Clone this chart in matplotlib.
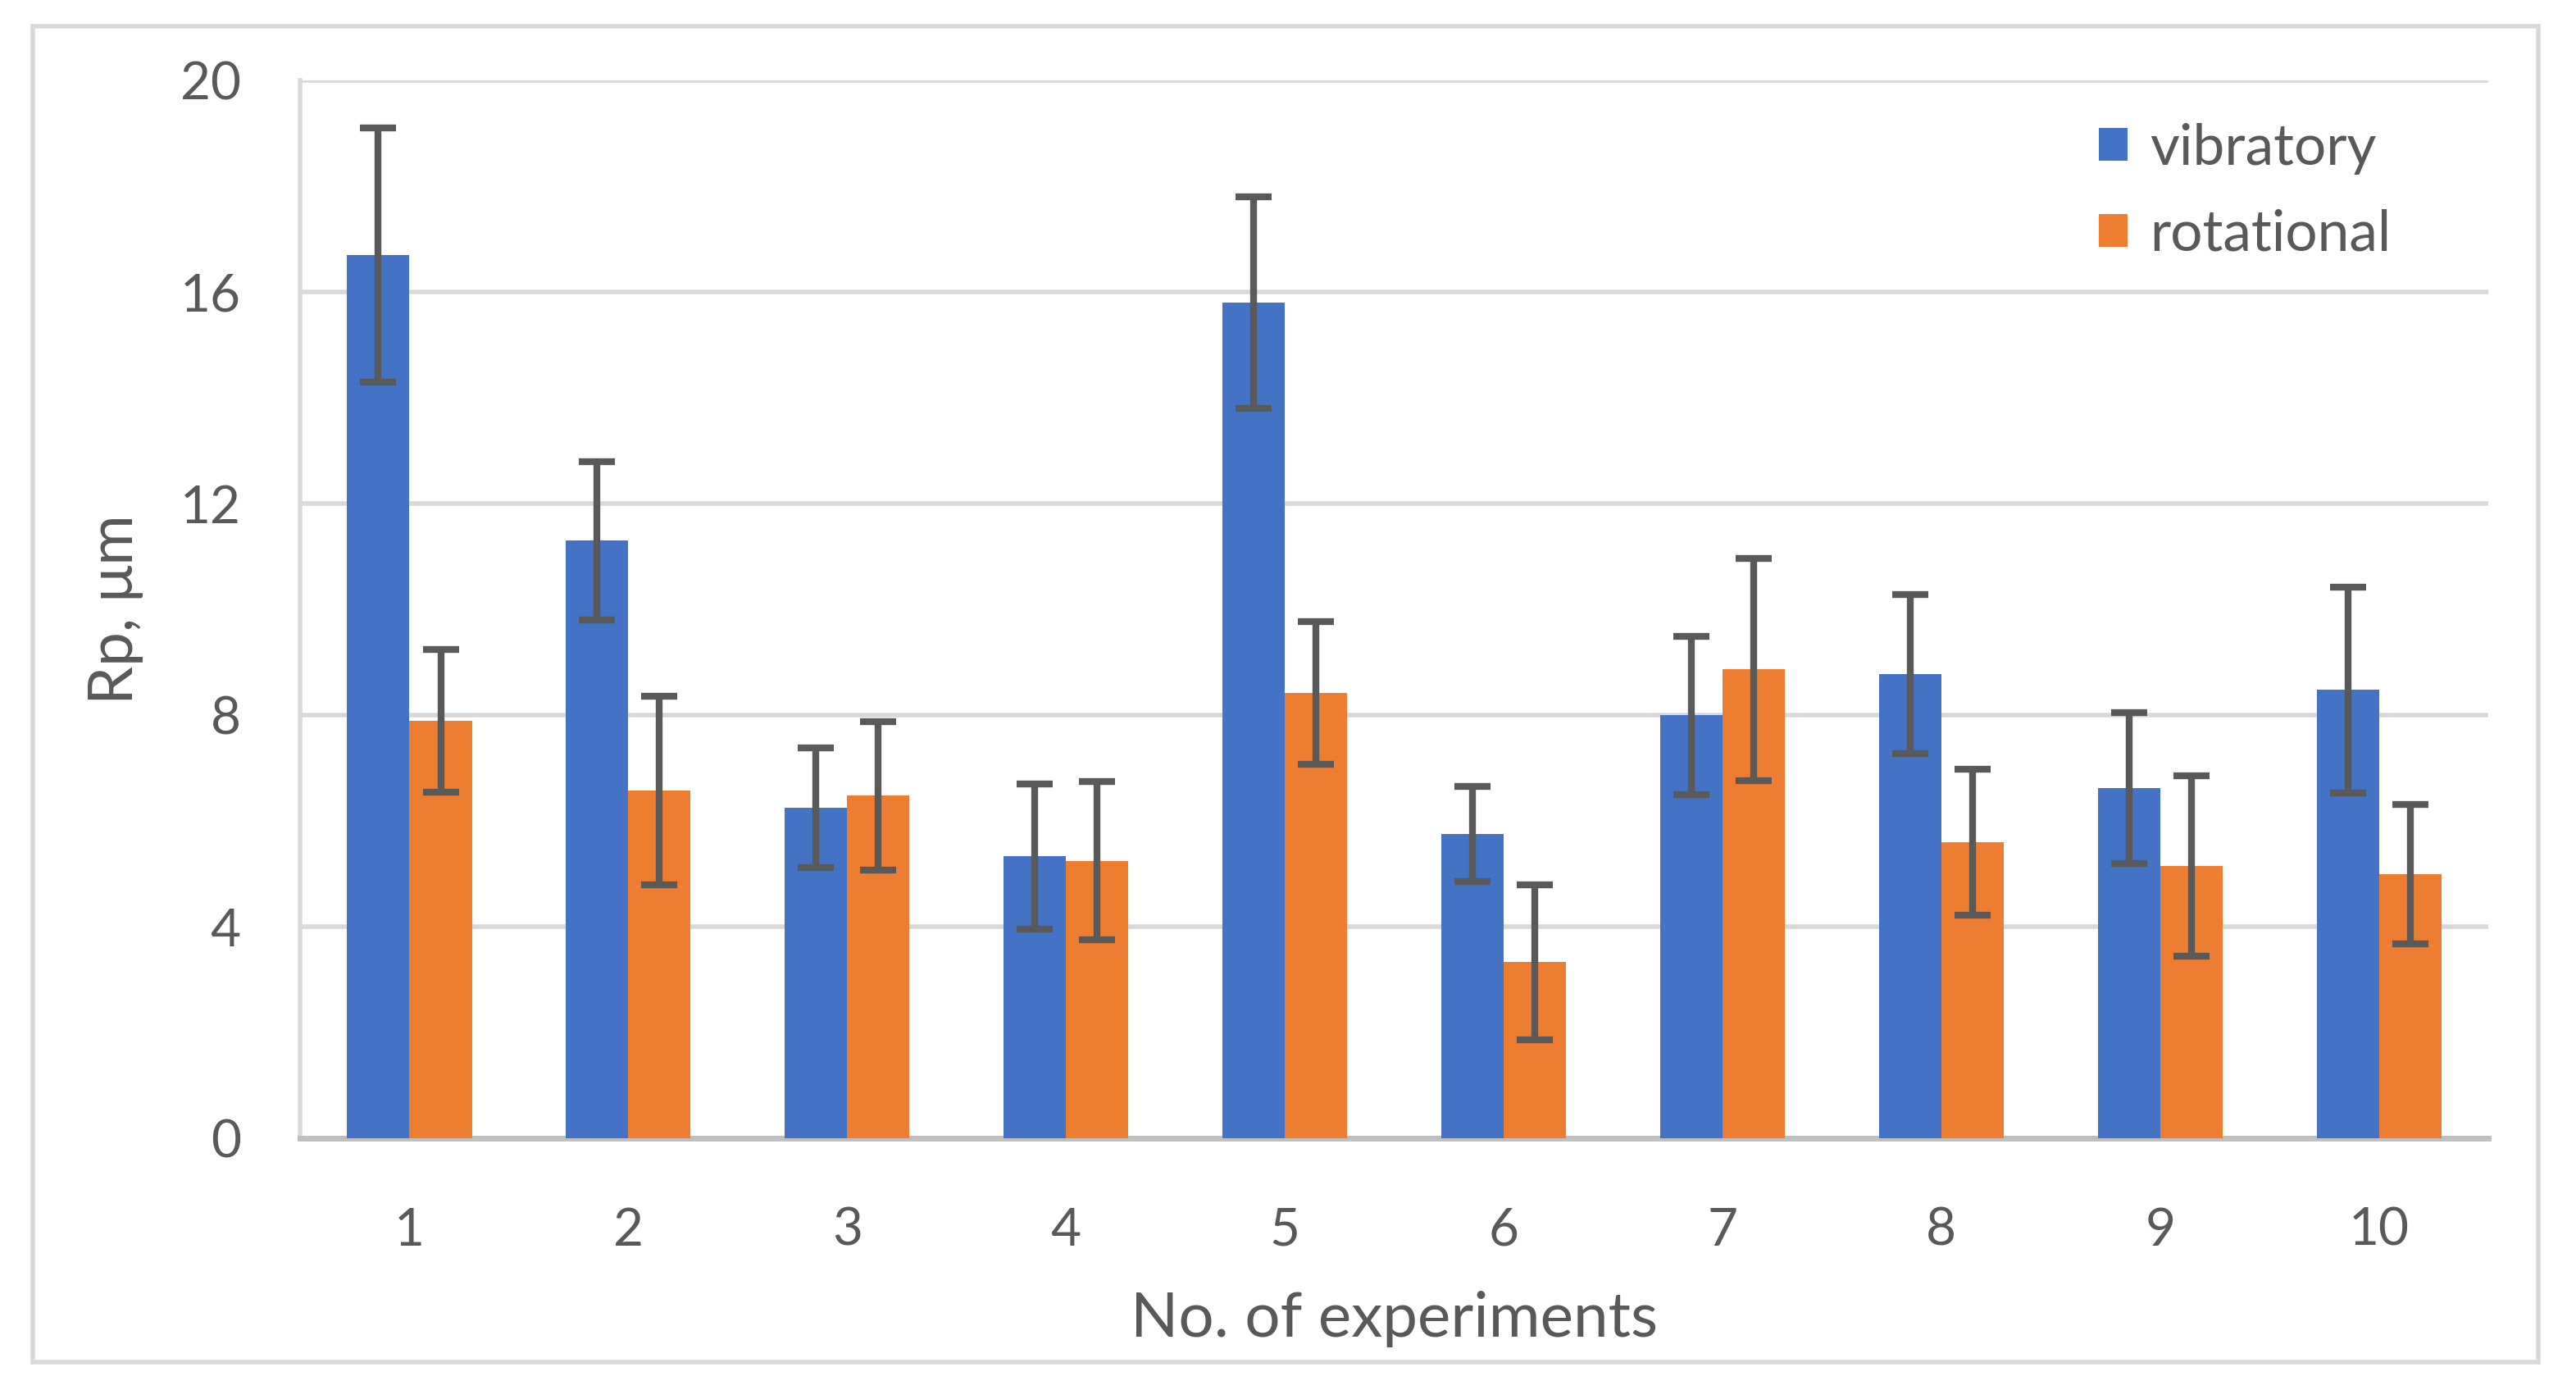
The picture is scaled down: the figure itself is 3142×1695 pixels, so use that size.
import numpy as np
import matplotlib as mpl
mpl.use('Agg')
import matplotlib.pyplot as plt
from matplotlib.patches import Rectangle

experiments = ["1", "2", "3", "4", "5", "6", "7", "8", "9", "10"]
vibratory = [16.7, 11.3, 6.25, 5.33, 15.8, 5.75, 8.0, 8.78, 6.62, 8.48]
vibratory_err = [2.4, 1.5, 1.13, 1.37, 2.0, 0.9, 1.5, 1.5, 1.43, 1.95]
rotational = [7.9, 6.58, 6.48, 5.25, 8.42, 3.33, 8.87, 5.6, 5.15, 5.0]
rotational_err = [1.35, 1.78, 1.4, 1.5, 1.35, 1.47, 2.1, 1.38, 1.7, 1.32]
yticks = [0, 4, 8, 12, 16, 20]

blue = "#4472C4"
orange = "#ED7D31"
txt = "#595959"
fs = 23

plt.rcParams['font.family'] = ['Lato', 'DejaVu Sans']

fig = plt.figure(figsize = (15.71, 8.475), dpi = 200)
ax = fig.add_axes([0.1165, 0.181, 0.8495, 0.761])

x = np.arange(len(experiments))
w = 0.285
err_kw = dict(ecolor = "#595959", elinewidth = 3, capsize = 8, capthick = 3)
ax.bar(x - w / 2, vibratory, w, yerr = vibratory_err, color = blue, label = "vibratory",
       error_kw = err_kw, zorder = 3)
ax.bar(x + w / 2, rotational, w, yerr = rotational_err, color = orange, label = "rotational",
       error_kw = err_kw, zorder = 3)

ax.set_xlim(-0.5, len(experiments) - 0.5)
ax.set_ylim(0, 20)
ax.set_yticks(yticks)
ax.set_xticks(x)
ax.set_xticklabels(experiments)
ax.yaxis.grid(True, color = "#D9D9D9", lw = 2, zorder = 0)
ax.set_axisbelow(True)
for s in ["top", "right"]:
    ax.spines[s].set_visible(False)
ax.spines["left"].set_color("#D9D9D9")
ax.spines["left"].set_linewidth(2)
ax.spines["bottom"].set_color("#BFBFBF")
ax.spines["bottom"].set_linewidth(2.5)
ax.tick_params(axis = "both", length = 0, labelsize = fs, labelcolor = txt)
ax.tick_params(axis = "y", pad = 26)
ax.tick_params(axis = "x", pad = 30)

ax.set_xlabel("No. of experiments", fontsize = 27.5, color = txt, labelpad = 16)
ax.set_ylabel("Rp, μm", fontsize = 27, color = txt, labelpad = 16)

ax.legend(loc = "upper left", bbox_to_anchor = (0.822, 0.96), frameon = False,
          fontsize = 25, labelcolor = txt, handlelength = 0.5, handleheight = 0.5,
          handletextpad = 0.4, labelspacing = 0.6, borderpad = 0, borderaxespad = 0)

fig.patches.append(Rectangle((0.0127, 0.02), 0.9726, 0.961, transform = fig.transFigure,
                             fill = False, edgecolor = "#D9D9D9", lw = 2))

fig.savefig("out.png", dpi = 200)
plt.close()
